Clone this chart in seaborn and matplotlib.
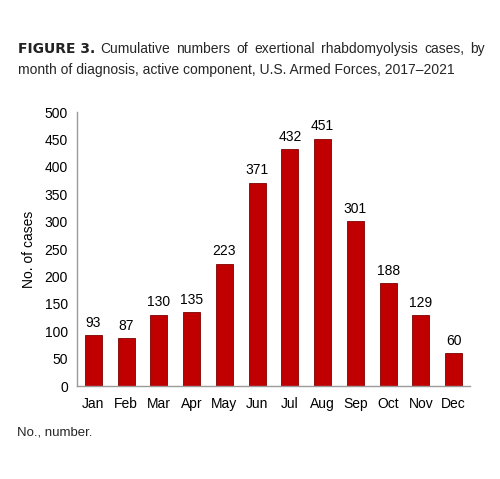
import matplotlib
matplotlib.use("Agg")
import matplotlib.pyplot as plt
import seaborn as sns
import pandas as pd

months = ["Jan", "Feb", "Mar", "Apr", "May", "Jun", "Jul", "Aug", "Sep", "Oct", "Nov", "Dec"]
cases = [93, 87, 130, 135, 223, 371, 432, 451, 301, 188, 129, 60]

title_label = "FIGURE 3."
title_line1 = "Cumulative numbers of exertional rhabdomyolysis cases, by"
title_line2 = "month of diagnosis, active component, U.S. Armed Forces, 2017\u20132021"
footnote = "No., number."

sns.set_style("white")
plt.rcParams["font.family"] = ["Liberation Sans", "DejaVu Sans"]

df = pd.DataFrame({"month": months, "cases": cases})

fig = plt.figure(figsize=(5, 4.79), dpi=100)
ax = fig.add_axes([0.154, 0.194, 0.786, 0.572])

sns.barplot(data=df, x="month", y="cases", color="#C00000", width=0.52,
            edgecolor="#7f0000", linewidth=0.6, saturation=1, ax=ax)

for i, v in enumerate(cases):
    ax.text(i, v + 10, str(v), ha="center", va="bottom", fontsize=10, color="black")

ax.set_ylim(0, 500)
ax.set_xlim(-0.5, 11.5)
ax.set_yticks(range(0, 501, 50))
ax.set_xlabel("")
ax.set_ylabel("No. of cases", fontsize=10, labelpad=6, color="black")
ax.tick_params(axis="both", labelsize=10, colors="#9a9a9a", length=3, width=0.8, labelcolor="black")
ax.tick_params(axis="x", pad=5)
for s in ["top", "right"]:
    ax.spines[s].set_visible(False)
for s in ["left", "bottom"]:
    ax.spines[s].set_color("#9a9a9a")
    ax.spines[s].set_linewidth(1)

# title: bold label then justified first line
fig.text(0.036, 0.897, title_label, fontsize=10, fontweight="bold",
         family=["DejaVu Sans Condensed", "DejaVu Sans"], color="#222222", va="center")
renderer = fig.canvas.get_renderer()
words = title_line1.split()
x_start, x_end = 0.200 * 500, 0.970 * 500
objs = [fig.text(0, 0.897, w, fontsize=10, va="center") for w in words]
widths = [o.get_window_extent(renderer).width for o in objs]
gap = (x_end - x_start - sum(widths)) / (len(words) - 1)
x = x_start
for o, w in zip(objs, widths):
    o.set_x(x / 500)
    x += w + gap
fig.text(0.036, 0.854, title_line2, fontsize=10, va="center")
fig.text(0.034, 0.098, footnote, fontsize=9.5, va="center")

fig.savefig("out.png", dpi=100)
